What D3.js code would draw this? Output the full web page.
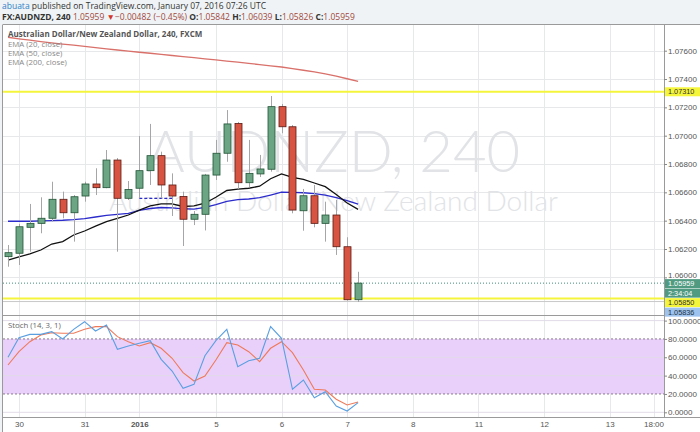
<!DOCTYPE html>
<html><head><meta charset="utf-8">
<script src="https://cdn.jsdelivr.net/npm/d3@7"></script>
<style>
html,body{margin:0;padding:0;background:#f0f3f5;}
svg{display:block;}
</style></head>
<body>
<svg id="c" width="700" height="432"></svg>
<script>
// ---- data ----
const open  = [1.06146,1.06170,1.06353,1.06381,1.06417,1.06551,1.06456,1.06574,1.06659,1.06633,1.06828,1.06558,1.06629,1.06753,1.06859,1.06652,1.06571,1.06410,1.06445,1.06722,1.06876,1.07086,1.06668,1.06730,1.06763,1.07205,1.07063,1.06470,1.06576,1.06381,1.06440,1.06216,1.05842];
const high  = [1.06228,1.06377,1.06518,1.06565,1.06675,1.06605,1.06581,1.06675,1.06770,1.06899,1.06842,1.06680,1.06998,1.07083,1.06887,1.06734,1.06605,1.06468,1.06730,1.06970,1.07181,1.07097,1.06970,1.06864,1.07280,1.07224,1.07075,1.06624,1.06652,1.06534,1.06546,1.06283,1.06039];
const low   = [1.06075,1.06087,1.06181,1.06311,1.06393,1.06417,1.06252,1.06534,1.06581,1.06629,1.06181,1.06546,1.06558,1.06652,1.06558,1.06433,1.06221,1.06369,1.06331,1.06687,1.06816,1.06624,1.06634,1.06708,1.06746,1.07017,1.06452,1.06329,1.06353,1.06252,1.06158,1.05836,1.05826];
const close = [1.06174,1.06357,1.06381,1.06417,1.06551,1.06456,1.06569,1.06659,1.06633,1.06828,1.06558,1.06620,1.06753,1.06859,1.06652,1.06574,1.06410,1.06445,1.06722,1.06876,1.07083,1.06668,1.06734,1.06765,1.07205,1.07063,1.06475,1.06576,1.06381,1.06440,1.06216,1.05842,1.05959];
const ema20 = [1.06122,1.06144,1.06165,1.06193,1.06235,1.06252,1.06299,1.06327,1.06362,1.06393,1.06417,1.06440,1.06475,1.06504,1.06518,1.06518,1.06500,1.06504,1.06523,1.06565,1.06613,1.06622,1.06629,1.06643,1.06696,1.06730,1.06706,1.06692,1.06666,1.06640,1.06585,1.06525,1.06480];
const ema50 = [1.06396,1.06396,1.06396,1.06398,1.06400,1.06403,1.06408,1.06415,1.06426,1.06438,1.06445,1.06452,1.06472,1.06486,1.06493,1.06491,1.06484,1.06482,1.06494,1.06514,1.06537,1.06549,1.06553,1.06562,1.06581,1.06601,1.06600,1.06597,1.06591,1.06581,1.06562,1.06542,1.06516];
const ema200 = [1.07695,1.07684,1.07674,1.07664,1.07655,1.07647,1.07639,1.07630,1.07622,1.07613,1.07605,1.07597,1.07589,1.07582,1.07574,1.07566,1.07558,1.07551,1.07543,1.07535,1.07527,1.07519,1.07510,1.07502,1.07493,1.07485,1.07474,1.07462,1.07450,1.07436,1.07421,1.07402,1.07383];
const stochK = [60,81.4,85,85,88,80,90.5,98.8,88.7,95.2,68.7,72.3,75.3,78.1,57.8,45,26.2,30.5,61.7,78.1,90.5,49.7,56.3,58.9,93.4,80.7,25.1,35.2,15.9,22.5,6.9,1.4,10.5];
const stochD = [51.6,66.1,77,84.3,86.8,86.2,86.2,90.5,93.4,93.4,82.5,77,72.3,75.9,69.8,58.9,43.2,34.1,39.6,57,75.9,73.4,66.1,55.2,69.8,77,65,46.1,25.1,24.3,14.2,8,11.2];
const xTickIdx    = [1,7,12,19,25,31,37,43,49,55,59];
const xTickLabels = ["30","31","2016","5","6","7","8","11","12","13","18:00"];
const priceTicks  = [1.060,1.062,1.064,1.066,1.068,1.070,1.072,1.074,1.076];
const stochTicks  = [0,20,40,60,80,100];
const hLines = [1.07310, 1.05850];
const dashedLevel = {price:1.06558, from:12, to:15};
const lastPrice = 1.05959, lowMark = 1.05836, countdown = "2:34:04";

// ---- layout ----
const svg = d3.select("#c");
const L = 3, R = 664, mainTop = 25, mainBot = 315, stTop = 316, stBot = 417;
const x = d3.scaleLinear().domain([0,59]).range([8,653.5]);
const y = d3.scaleLinear().domain([1.062,1.076]).range([249,50.7]);
const ys = d3.scaleLinear().domain([0,100]).range([412.3,320.6]);
const FONT = "'Liberation Sans', Arial, sans-serif";

svg.append("rect").attr("x",0).attr("y",0).attr("width",700).attr("height",432).attr("fill","#f0f3f5");
svg.append("rect").attr("x",L).attr("y",mainTop).attr("width",700-L).attr("height",432-mainTop).attr("fill","#ffffff");

const defs = svg.append("defs");
defs.append("clipPath").attr("id","cm").append("rect").attr("x",L).attr("y",mainTop).attr("width",R-L).attr("height",mainBot-mainTop);
defs.append("clipPath").attr("id","cs").append("rect").attr("x",L).attr("y",stTop).attr("width",R-L).attr("height",stBot-stTop);

const gm = svg.append("g").attr("clip-path","url(#cm)");
const gs = svg.append("g").attr("clip-path","url(#cs)");
[gm,gs].forEach((g,k)=>{
  g.selectAll("line.v").data(xTickIdx).enter().append("line")
   .attr("x1",d=>Math.round(x(d))+0.5).attr("x2",d=>Math.round(x(d))+0.5).attr("y1",k?stTop:mainTop).attr("y2",k?stBot:mainBot)
   .attr("stroke","#e6e8ea").attr("stroke-width",1);
});
gm.selectAll("line.h").data(priceTicks).enter().append("line")
  .attr("x1",L).attr("x2",R).attr("y1",d=>Math.round(y(d))+0.5).attr("y2",d=>Math.round(y(d))+0.5)
  .attr("stroke","#e6e8ea");

// watermark
gm.append("text").attr("x",(L+R)/2).attr("y",172).attr("text-anchor","middle")
  .attr("font-family","Lato, 'Open Sans', sans-serif").attr("font-weight",300).attr("font-size",58)
  .attr("fill","#e1e3e6").text("AUDNZD, 240");
gm.append("text").attr("x",(L+R)/2).attr("y",211).attr("text-anchor","middle")
  .attr("font-family","Lato, 'Open Sans', sans-serif").attr("font-weight",300).attr("font-size",28)
  .attr("fill","#e1e3e6").text("Australian Dollar/New Zealand Dollar");

gm.selectAll("line.yl").data(hLines).enter().append("line")
  .attr("x1",L).attr("x2",R).attr("y1",d=>y(d)).attr("y2",d=>y(d))
  .attr("stroke","#f5f53c").attr("stroke-width",2);
gm.append("line").attr("x1",L).attr("x2",R).attr("y1",y(lowMark)+1).attr("y2",y(lowMark)+1)
  .attr("stroke","#c8c8c8").attr("stroke-width",1);

gm.append("line").attr("x1",L).attr("x2",R).attr("y1",y(lastPrice)).attr("y2",y(lastPrice))
  .attr("stroke","#3d8f7a").attr("stroke-dasharray","1,2").attr("stroke-width",1);

const line = d3.line().x((d,i)=>x(i)).y(d=>y(d));
gm.append("path").datum(ema200).attr("d",line).attr("fill","none").attr("stroke","#d9706a").attr("stroke-width",1.3);
gm.append("path").datum(ema50).attr("d",line).attr("fill","none").attr("stroke","#2b2bcc").attr("stroke-width",1.3);
gm.append("path").datum(ema20).attr("d",line).attr("fill","none").attr("stroke","#111").attr("stroke-width",1.3);

gm.append("line").attr("x1",x(dashedLevel.from)).attr("x2",x(dashedLevel.to)).attr("y1",y(dashedLevel.price)).attr("y2",y(dashedLevel.price))
  .attr("stroke","#2b2bcc").attr("stroke-width",1.3).attr("stroke-dasharray","3,2");

const idx = d3.range(open.length);
const bw = 7;
const cg = gm.append("g");
cg.selectAll("line.w").data(idx).enter().append("line")
  .attr("x1",i=>Math.round(x(i))+0.5).attr("x2",i=>Math.round(x(i))+0.5)
  .attr("y1",i=>y(high[i])).attr("y2",i=>y(low[i])).attr("stroke","#a6a6a8").attr("stroke-width",1);
cg.selectAll("rect.b").data(idx).enter().append("rect")
  .attr("x",i=>Math.round(x(i))-bw/2+0.5).attr("width",bw)
  .attr("y",i=>y(Math.max(open[i],close[i])))
  .attr("height",i=>Math.max(1,Math.abs(y(open[i])-y(close[i]))))
  .attr("fill",i=>close[i]>=open[i]?"#6ba583":"#d75442")
  .attr("stroke",i=>close[i]>=open[i]?"#225437":"#5b1a13").attr("stroke-width",0.8);

gs.append("rect").attr("x",L).attr("width",R-L).attr("y",ys(80)).attr("height",ys(20)-ys(80)).attr("fill","#e9d0fb");
gs.selectAll("line.sh").data(stochTicks.filter(d=>d!==20&&d!==80)).enter().append("line")
  .attr("x1",L).attr("x2",R).attr("y1",d=>ys(d)).attr("y2",d=>ys(d)).attr("stroke","#e1dbe8");
gs.selectAll("line.sd").data([20,80]).enter().append("line")
  .attr("x1",L).attr("x2",R).attr("y1",d=>ys(d)).attr("y2",d=>ys(d))
  .attr("stroke","#8a7a8c").attr("stroke-dasharray","2,2");
const sline = d3.line().x((d,i)=>x(i)).y(d=>ys(d));
gs.append("path").datum(stochD).attr("d",sline).attr("fill","none").attr("stroke","#ee7a5a").attr("stroke-width",1.1);
gs.append("path").datum(stochK).attr("d",sline).attr("fill","none").attr("stroke","#5a9fe0").attr("stroke-width",1.1);

const fr = svg.append("g").attr("stroke","#9a9a9a").attr("stroke-width",1).attr("fill","none");
fr.append("line").attr("x1",L-0.5).attr("x2",700).attr("y1",mainTop-0.5).attr("y2",mainTop-0.5);
fr.append("line").attr("x1",L-0.5).attr("x2",L-0.5).attr("y1",mainTop).attr("y2",432);
fr.append("line").attr("x1",R+0.5).attr("x2",R+0.5).attr("y1",mainTop).attr("y2",stBot);
fr.append("line").attr("x1",L).attr("x2",700).attr("y1",stTop-0.5).attr("y2",stTop-0.5);
fr.append("line").attr("x1",L).attr("x2",700).attr("y1",stBot+0.5).attr("y2",stBot+0.5);

const ax = svg.append("g").attr("transform",`translate(${R},0)`);
ax.call(d3.axisRight(y).tickValues(priceTicks).tickSize(3).tickFormat(d3.format(".5f")));
const ax2 = svg.append("g").attr("transform",`translate(${R},0)`);
ax2.call(d3.axisRight(ys).tickValues(stochTicks).tickSize(3).tickFormat(d3.format(".4f")));
[ax,ax2].forEach(a=>{
  a.select(".domain").remove();
  a.selectAll("line").attr("stroke","#888");
  a.selectAll("text").attr("font-family",FONT).attr("font-size",8).attr("fill","#555").attr("x",4);
});
// lowest price label sits just above the stacked tags
ax.selectAll(".tick").filter(d=>d===1.060).select("text").attr("dy","0.05em");

const xa = svg.append("g").attr("transform",`translate(0,${stBot})`);
xa.call(d3.axisBottom(x).tickValues(xTickIdx).tickSize(0).tickFormat((d,i)=>xTickLabels[i]));
xa.select(".domain").remove();
xa.selectAll("text").attr("font-family",FONT).attr("font-size",8).attr("fill","#555").attr("dy","0.9em")
  .attr("font-weight",(d,i)=>xTickLabels[i]==="2016"?"bold":"normal");

function tag(cy, txt, bg, fg){
  const g = svg.append("g");
  g.append("rect").attr("x",R+1).attr("y",cy-4.5).attr("width",700-R-1).attr("height",9).attr("fill",bg);
  g.append("text").attr("x",R+4).attr("y",cy+2.6).attr("font-family",FONT).attr("font-size",7.3).attr("fill",fg).text(txt);
}
tag(y(1.07310),"1.07310","#f5f53c","#333");
const t0 = y(lastPrice)+0.5;
tag(t0,"1.05959","#4f9a80","#fff");
tag(t0+9.5,countdown,"#4f9a80","#fff");
tag(t0+19,"1.05850","#f5f53c","#333");
tag(t0+28.5,"1.05836","#9ec3ee","#234");

const lg = svg.append("g").attr("font-family","'Open Sans', sans-serif");
lg.append("text").attr("x",8).attr("y",37).attr("font-size",8).attr("font-weight","bold").attr("fill","#555").text("Australian Dollar/New Zealand Dollar, 240, FXCM");
["EMA (20, close)","EMA (50, close)","EMA (200, close)"].forEach((t,i)=>{
  lg.append("text").attr("x",8).attr("y",46.5+i*9).attr("font-size",7.8).attr("fill","#888").text(t);
});
lg.append("text").attr("x",8).attr("y",328).attr("font-size",7.8).attr("fill","#666").text("Stoch (14, 3, 1)");

const h1 = svg.append("text").attr("x",2).attr("y",9).attr("font-family","'Open Sans', sans-serif").attr("font-size",8.5).attr("fill","#333");
h1.append("tspan").attr("fill","#2f80c8").text("abuata");
h1.append("tspan").text(" published on TradingView.com, January 07, 2016 07:26 UTC");
const h2 = svg.append("text").attr("x",2).attr("y",20).attr("font-family","'Open Sans', sans-serif").attr("font-size",8.5).attr("fill","#333");
h2.append("tspan").attr("font-weight","bold").text("FX:AUDNZD, 240 ");
h2.append("tspan").attr("fill","#a0483c").text("1.05959 ");
h2.append("tspan").attr("fill","#d2352a").text("▼");
h2.append("tspan").attr("fill","#a0483c").text("−0.00482 (−0.45%) ");
[["O:","1.05842"],["H:","1.06039"],["L:","1.05826"],["C:","1.05959"]].forEach(p=>{
  h2.append("tspan").attr("font-weight","bold").attr("fill","#333").text(p[0]);
  h2.append("tspan").attr("fill","#a0483c").text(p[1]+" ");
});
</script>
</body></html>
